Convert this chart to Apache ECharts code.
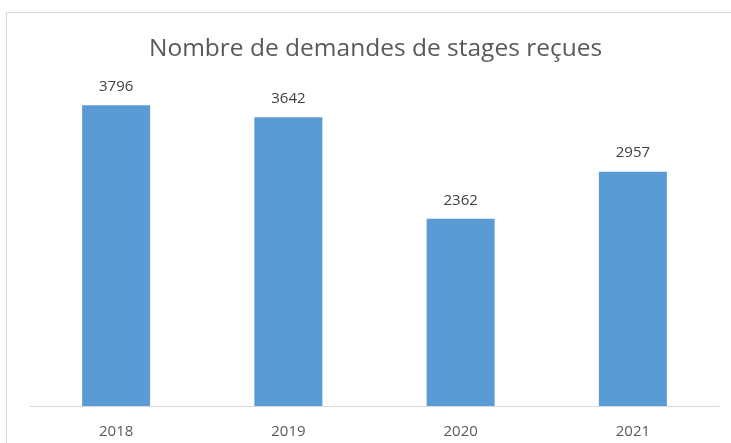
<!DOCTYPE html>
<html>
<head>
<meta charset="utf-8">
<script src="https://cdn.jsdelivr.net/npm/echarts@6/dist/echarts.min.js"></script>
<style>
  html, body { margin: 0; padding: 0; background: #fff; }
  #main { width: 731px; height: 443px; }
</style>
</head>
<body>
<div id="main"></div>
<script>
var years = ['2018', '2019', '2020', '2021'];
var demandes = [3796, 3642, 2362, 2957];

var chartDom = document.getElementById('main');
var myChart = echarts.init(chartDom);
var option;

option = {
  animation: false,
  graphic: [
    {
      type: 'rect',
      shape: { x: 6.5, y: 12.5, width: 740, height: 450 },
      style: { fill: 'none', stroke: '#d9d9d9', lineWidth: 1 }
    }
  ],
  title: {
    text: 'Nombre de demandes de stages reçues',
    left: 144,
    top: 32,
    textStyle: {
      fontFamily: 'Open Sans',
      fontSize: 24.5,
      fontWeight: 'normal',
      color: '#595959'
    }
  },
  grid: {
    left: 30,
    right: 12,
    top: 89,
    bottom: 37
  },
  xAxis: {
    type: 'category',
    data: years,
    axisLine: { lineStyle: { color: '#d9d9d9', width: 1 } },
    axisTick: { show: false },
    axisLabel: {
      margin: 18,
      fontFamily: 'Open Sans',
      fontSize: 15,
      color: '#595959'
    }
  },
  yAxis: {
    type: 'value',
    min: 0,
    max: 4000,
    show: false
  },
  series: [
    {
      name: 'Demandes',
      type: 'bar',
      data: demandes,
      barWidth: 68,
      itemStyle: { color: '#5b9bd5' },
      label: {
        show: true,
        position: 'top',
        distance: 11,
        fontFamily: 'Open Sans',
        fontSize: 15,
        color: '#404040'
      }
    }
  ]
};

option && myChart.setOption(option);
</script>
</body>
</html>
